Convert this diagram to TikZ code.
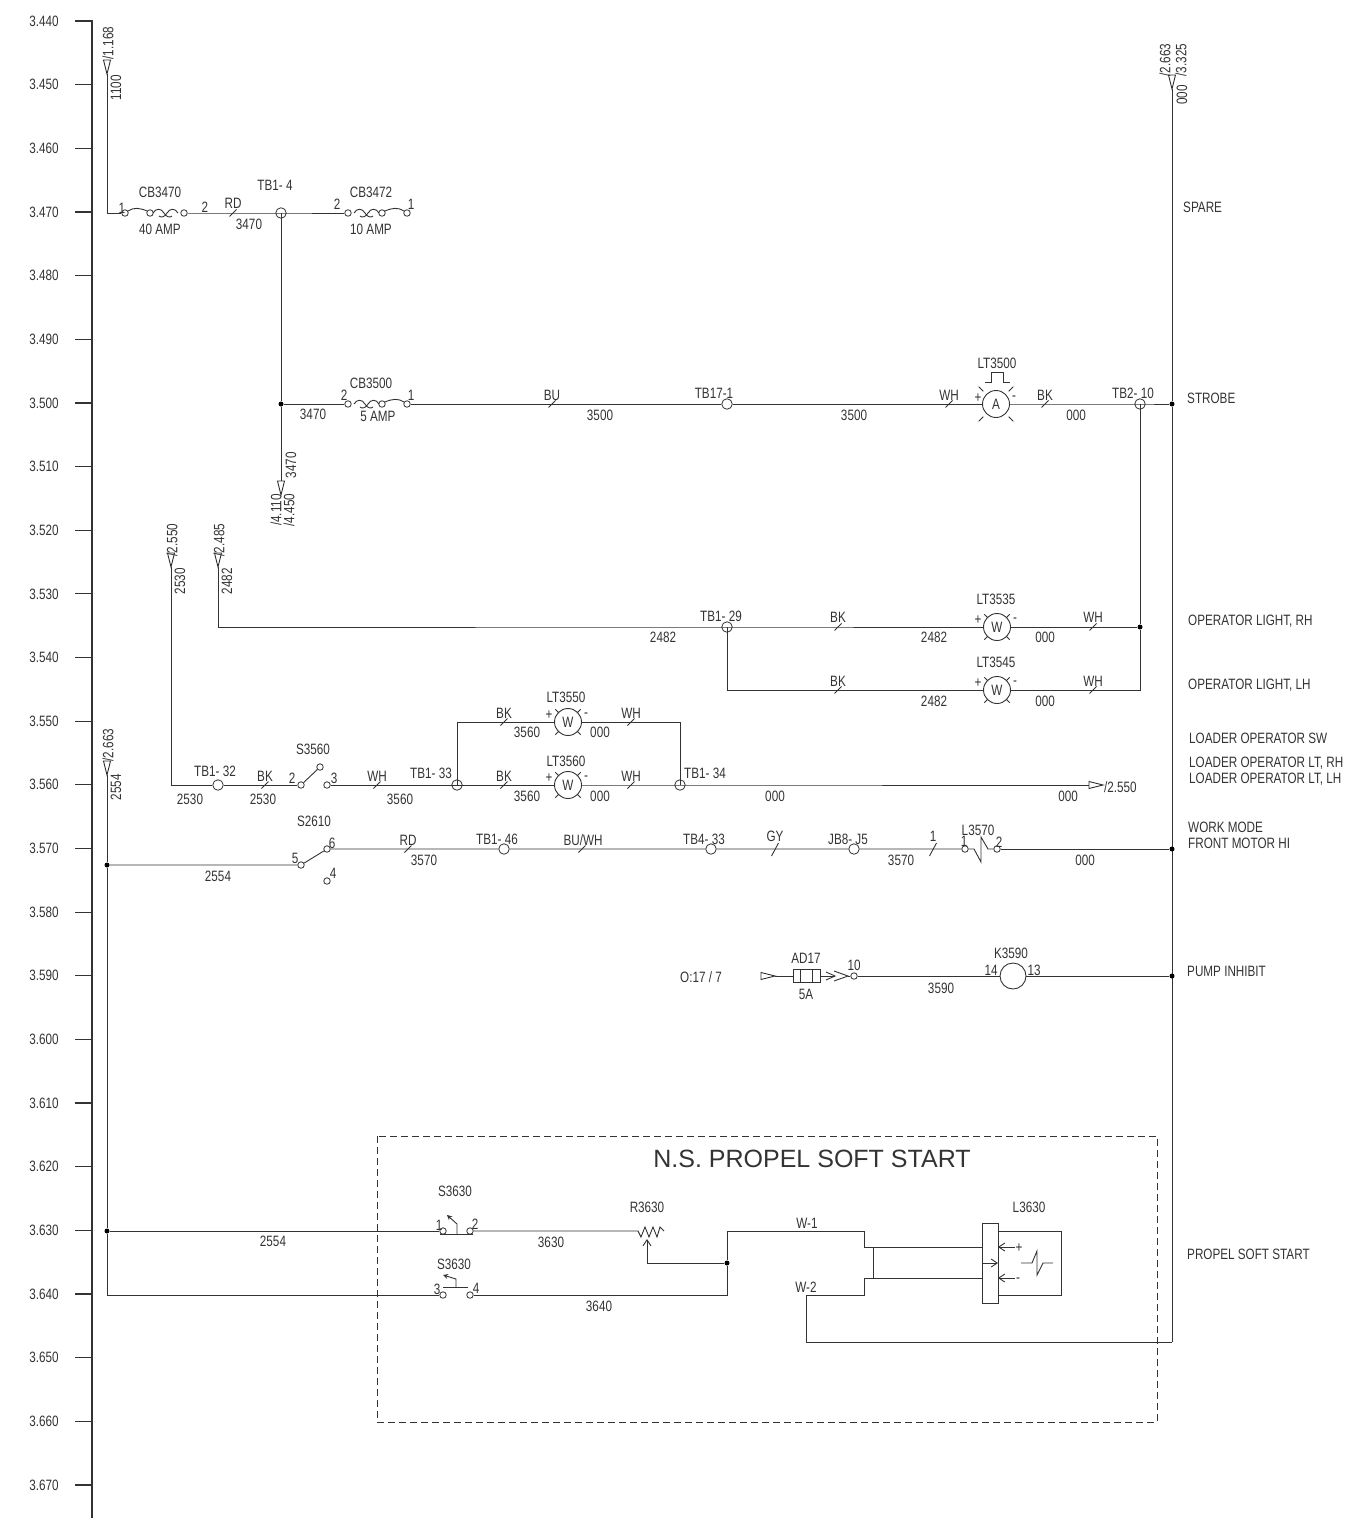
\documentclass[tikz,border=0pt]{standalone}
\usepackage{fontspec}
\setmainfont[FakeStretch=0.78]{Liberation Sans}
\newfontfamily\titlefont{Liberation Sans}
\usetikzlibrary{arrows.meta}
\definecolor{inkgray}{HTML}{333333}
\tikzset{
  wire/.style={draw=inkgray,line width=0.9pt},
  lbl/.style={text=inkgray,font=\fontsize{15}{15}\selectfont,inner sep=0pt},
  vlbl/.style={lbl,rotate=90},
  rowlbl/.style={lbl,anchor=west},
  term/.style={circle,draw=inkgray,line width=0.8pt,fill=white,inner sep=0pt,minimum size=6.5pt},
  tb/.style={circle,draw=inkgray,line width=0.8pt,inner sep=0pt,minimum size=10.5pt},
  dotjoint/.style={circle,fill=black,inner sep=0pt,minimum size=5pt},
  lampbody/.style={circle,draw=inkgray,line width=0.9pt,inner sep=0pt,minimum size=27pt,text=inkgray,font=\fontsize{15}{15}\selectfont},
  opentip/.style={-{Straight Barb[length=6pt,width=8pt]}},
  wiretick/.pic={\draw[wire] (-3.5,3.5) -- (3.5,-3.5);},
  longtick/.pic={\draw[wire] (-3.5,7) -- (3.5,-6);},
  offsheet/.pic={
    \draw[wire,fill=white] (0,0) -- (-3.5,-14) -- (3.5,-14) -- cycle;
    \coordinate (-tip) at (0,0);
    \coordinate (-base) at (0,-14);
  },
  breaker/.pic={
    \node[term] (-a) at (0,0) {};
    \node[term] (-m) at (25,0) {};
    \node[term] (-b) at (59,0) {};
    \draw[wire] (3,-2) .. controls (9,-6) and (15,-5) .. (22,-2);
    \draw[wire] (28,0) .. controls (31,-5) and (36,-5) .. (39,0) .. controls (41,4) and (45,5) .. (47,3);
    \draw[wire] (53,0) .. controls (50,-5) and (45,-5) .. (42,0) .. controls (40,4) and (36,5) .. (34,3);
  },
  lampw/.pic={
    \node[lampbody] (-c) at (0,0) {W};
    \foreach \a in {45,135,225,315} \draw[wire] (\a:12.5) -- (\a:18);
    \node[lbl] (-p) at (-19,-7) {+};
    \node[lbl] (-m) at (18,-7) {-};
  }
}
\begin{document}
\begin{tikzpicture}[x=1pt,y=-1pt]
\useasboundingbox (0,0) rectangle (1361,1520);
\coordinate (axtop) at (92,20);
\coordinate (axbot) at (92,1518);
\draw[draw=inkgray,line width=2.4pt] (axtop) -- (axbot);
\foreach \i in {0,...,23} {
  \pgfmathsetmacro\rowy{21+63.65*\i}
  \pgfmathtruncatemacro\rung{440+10*\i}
  \draw[draw=inkgray,line width=1.2pt] (75,\rowy) -- (92,\rowy);
  \node[lbl] (ax\rung) at (44,\rowy) {3.\rung};
}

\pic (a1100) at (107,74) {offsheet};
\node[vlbl] (l1168) at (108,43) {/1.168};
\node[vlbl] (l1100) at (116,88) {1100};
\coordinate (c1100) at (107,213);
\pic (cb3470) at (125,213) {breaker};
\node[tb] (tb14) at (281,213) {};
\pic[xscale=-1] (cb3472) at (407,213) {breaker};
\draw[wire] (a1100-tip) -- (c1100) -- (cb3470-a);
\draw[wire] (cb3470-b) -- (tb14.center) -- (cb3472-b);
\pic at (233,213) {wiretick};
\node[lbl] (l1a) at (122,208) {1};
\node[lbl] (l2a) at (205,207) {2};
\node[lbl] (lcb3470) at (160,192) {CB3470};
\node[lbl] (l40a) at (160,229) {40 AMP};
\node[lbl] (lrd1) at (233,203) {RD};
\node[lbl] (l3470a) at (249,224) {3470};
\node[lbl] (ltb14) at (275,185) {TB1- 4};
\node[lbl] (l2b) at (337,204) {2};
\node[lbl] (l1b) at (411,204) {1};
\node[lbl] (lcb3472) at (371,192) {CB3472};
\node[lbl] (l10a) at (371,229) {10 AMP};

\node[dotjoint] (j3500) at (281,404) {};
\pic (a3470) at (281,495) {offsheet};
\draw[wire] (tb14.center) -- (j3500) -- (a3470-base);
\node[vlbl] (l3470b) at (291,465) {3470};
\node[vlbl] (l4110) at (276,510) {/4.110};
\node[vlbl] (l4450) at (289,510) {/4.450};
\node[lbl] (l3470c) at (313,414) {3470};
\pic[xscale=-1] (cb3500) at (407,404) {breaker};
\node[tb] (tb171) at (727,404) {};
\node[lampbody] (lt3500) at (996,404) {A};
\foreach \a in {45,135,225,315} \draw[wire] ([shift={(\a:18)}]lt3500.center) -- ([shift={(\a:24.5)}]lt3500.center);
\draw[wire] (985,382) -- (991,382) -- (991,372) -- (1003,372) -- (1003,382) -- (1010,382);
\node[tb] (tb210) at (1140,404) {};
\node[dotjoint] (j000a) at (1172,404) {};
\draw[wire] (j3500) -- (cb3500-b);
\draw[wire] (cb3500-a) -- (tb171) -- (lt3500) -- (tb210.center) -- (j000a);
\pic at (552,404) {wiretick};
\pic at (949,404) {wiretick};
\pic at (1045,404) {wiretick};
\node[lbl] (l2c) at (344,395) {2};
\node[lbl] (l1c) at (411,395) {1};
\node[lbl] (lcb3500) at (371,383) {CB3500};
\node[lbl] (l5a) at (378,416) {5 AMP};
\node[lbl] (lbu) at (552,395) {BU};
\node[lbl] (l3500a) at (600,415) {3500};
\node[lbl] (ltb171) at (714,393) {TB17-1};
\node[lbl] (l3500b) at (854,415) {3500};
\node[lbl] (lwh1) at (949,395) {WH};
\node[lbl] (llt3500) at (997,363) {LT3500};
\node[lbl] (lpa) at (978,398) {+};
\node[lbl] (lma) at (1014,398) {-};
\node[lbl] (lbk1) at (1045,395) {BK};
\node[lbl] (l000a) at (1076,415) {000};
\node[lbl] (ltb210) at (1133,393) {TB2- 10};

\pic (a000) at (1172,89) {offsheet};
\node[vlbl] (l2663a) at (1165,60) {/2.663};
\node[vlbl] (l3325) at (1181,60) {/3.325};
\node[vlbl] (l000b) at (1182,95) {000};
\coordinate (c1342) at (1172,1342);
\draw[wire] (a000-tip) -- (j000a) -- (c1342);

\pic (a2482) at (218,567) {offsheet};
\node[vlbl] (l2485) at (219,540) {/2.485};
\node[vlbl] (l2482a) at (227,581) {2482};
\coordinate (c2482) at (218,627);
\node[tb] (tb129) at (727,627) {};
\pic (lt3535) at (997,627) {lampw};
\node[dotjoint] (j1140) at (1140,627) {};
\draw[wire] (a2482-tip) -- (c2482) -- (tb129.center) -- (lt3535-c) -- (j1140);
\draw[wire] (tb210.center) -- (j1140);
\pic at (838,627) {wiretick};
\pic at (1093,627) {wiretick};
\node[lbl] (l2482b) at (663,637) {2482};
\node[lbl] (ltb129) at (721,616) {TB1- 29};
\node[lbl] (lbk2) at (838,617) {BK};
\node[lbl] (llt3535) at (996,599) {LT3535};
\node[lbl] (l2482c) at (934,637) {2482};
\node[lbl] (l000c) at (1045,637) {000};
\node[lbl] (lwh2) at (1093,617) {WH};

\coordinate (c727) at (727,690);
\coordinate (c1140) at (1140,690);
\pic (lt3545) at (997,690) {lampw};
\draw[wire] (tb129.center) -- (c727) -- (lt3545-c) -- (c1140) -- (j1140);
\pic at (838,690) {wiretick};
\pic at (1093,690) {wiretick};
\node[lbl] (lbk3) at (838,681) {BK};
\node[lbl] (l2482d) at (934,701) {2482};
\node[lbl] (llt3545) at (996,662) {LT3545};
\node[lbl] (l000d) at (1045,701) {000};
\node[lbl] (lwh3) at (1093,681) {WH};

\pic (a2530) at (171,567) {offsheet};
\node[vlbl] (l2550a) at (172,540) {/2.550};
\node[vlbl] (l2530a) at (180,581) {2530};
\coordinate (c2530) at (171,785);
\node[tb] (tb132) at (218,785) {};
\node[term] (s35602) at (301,785) {};
\node[term] (s35603) at (327,785) {};
\node[term] (s3560p) at (320,767) {};
\node[tb] (tb133) at (457,785) {};
\node[tb] (tb134) at (680,785) {};
\pic (a2550) at (1103,785) [rotate=90] {offsheet};
\draw[wire] (a2530-tip) -- (c2530) -- (tb132) -- (s35602);
\draw[wire] (s35602) -- (s3560p);
\draw[wire] (s35603) -- (tb133.center);
\pic (lt3560) at (568,785) {lampw};
\draw[wire] (tb133.center) -- (lt3560-c) -- (tb134.center) -- (a2550-base);
\coordinate (c457) at (457,722);
\coordinate (c680) at (680,722);
\pic (lt3550) at (568,722) {lampw};
\draw[wire] (tb133.center) -- (c457) -- (lt3550-c) -- (c680) -- (tb134.center);
\pic at (265,785) {wiretick};
\pic at (377,785) {wiretick};
\pic at (504,785) {wiretick};
\pic at (631,785) {wiretick};
\pic at (504,722) {wiretick};
\pic at (631,722) {wiretick};
\node[lbl] (ltb132) at (215,771) {TB1- 32};
\node[lbl] (l2530b) at (190,799) {2530};
\node[lbl] (lbk4) at (265,776) {BK};
\node[lbl] (l2530c) at (263,799) {2530};
\node[lbl] (ls3560) at (313,749) {S3560};
\node[lbl] (l2d) at (292,778) {2};
\node[lbl] (l3d) at (334,778) {3};
\node[lbl] (lwh4) at (377,776) {WH};
\node[lbl] (l3560a) at (400,799) {3560};
\node[lbl] (ltb133) at (431,773) {TB1- 33};
\node[lbl] (lbk5) at (504,713) {BK};
\node[lbl] (l3560b) at (527,732) {3560};
\node[lbl] (llt3550) at (566,697) {LT3550};
\node[lbl] (l000e) at (600,732) {000};
\node[lbl] (lwh5) at (631,713) {WH};
\node[lbl] (lbk6) at (504,776) {BK};
\node[lbl] (l3560c) at (527,796) {3560};
\node[lbl] (llt3560) at (566,761) {LT3560};
\node[lbl] (l000f) at (600,796) {000};
\node[lbl] (lwh6) at (631,776) {WH};
\node[lbl] (ltb134) at (705,773) {TB1- 34};
\node[lbl] (l000g) at (775,796) {000};
\node[lbl] (l000h) at (1068,796) {000};
\node[lbl,anchor=west] (l2550b) at (1104,787) {/2.550};

\pic (a2554) at (107,775) {offsheet};
\node[vlbl] (l2663b) at (108,745) {/2.663};
\node[vlbl] (l2554a) at (116,787) {2554};
\node[dotjoint] (j865) at (107,865) {};
\node[dotjoint] (j1231) at (107,1231) {};
\coordinate (c1295) at (107,1295);
\draw[wire] (a2554-tip) -- (j865) -- (j1231) -- (c1295);
\node[term] (s26105) at (301,865) {};
\node[term] (s26106) at (327,849) {};
\node[term] (s26104) at (327,881) {};
\node[tb,fill=white] (tb146) at (504,849) {};
\node[tb,fill=white] (tb433) at (711,849) {};
\node[tb,fill=white] (jb8j5) at (854,849) {};
\node[term] (l35701) at (965,849) {};
\node[term] (l35702) at (997,849) {};
\node[dotjoint] (j000b) at (1172,849) {};
\draw[wire] (j865) -- (s26105) -- (s26106) -- (tb146) -- (tb433) -- (jb8j5) -- (l35701);
\draw[wire] (l35701) -- (974,849) -- (981,862) -- (981,837) -- (988,849) -- (l35702);
\draw[wire] (l35702) -- (j000b);
\pic at (408,849) {wiretick};
\pic at (582,849) {wiretick};
\pic at (775,849) {longtick};
\pic at (933,849) {longtick};
\node[lbl] (l2554b) at (218,876) {2554};
\node[lbl] (ls2610) at (314,821) {S2610};
\node[lbl] (l5e) at (295,858) {5};
\node[lbl] (l6e) at (332,843) {6};
\node[lbl] (l4e) at (333,873) {4};
\node[lbl] (lrd2) at (408,840) {RD};
\node[lbl] (l3570a) at (424,860) {3570};
\node[lbl] (ltb146) at (497,839) {TB1- 46};
\node[lbl] (lbuwh) at (583,840) {BU/WH};
\node[lbl] (ltb433) at (704,839) {TB4- 33};
\node[lbl] (lgy) at (775,836) {GY};
\node[lbl] (ljb8) at (848,839) {JB8- J5};
\node[lbl] (l3570b) at (901,860) {3570};
\node[lbl] (l1f) at (933,836) {1};
\node[lbl] (ll3570) at (978,830) {L3570};
\node[lbl] (l1g) at (964,841) {1};
\node[lbl] (l2g) at (999,842) {2};
\node[lbl] (l000i) at (1085,860) {000};

\node[lbl] (lo17) at (701,977) {O:17 / 7};
\pic (a017) at (775,976) [rotate=90] {offsheet};
\node[draw=inkgray,line width=0.9pt,inner sep=0pt,minimum width=27pt,minimum height=13pt] (ad17) at (806.5,976) {};
\draw[wire] (800,969.5) -- (800,982.5);
\draw[wire] (812.5,969.5) -- (812.5,982.5);
\node[term] (t10) at (854,976) {};
\coordinate (chev) at (848,976);
\node[circle,draw=inkgray,line width=0.9pt,inner sep=0pt,minimum size=26pt] (k3590) at (1013,976) {};
\node[dotjoint] (j000c) at (1172,976) {};
\draw[wire] (a017-tip) -- (ad17);
\draw[wire] (ad17) -- (835,976);
\draw[wire] (826,972) -- (835,976) -- (826,980);
\draw[wire] (834,971) -- (chev) -- (834,981);
\draw[wire] (chev) -- (t10) -- (k3590) -- (j000c);
\node[lbl] (lad17) at (806,958) {AD17};
\node[lbl] (l5b) at (806,994) {5A};
\node[lbl] (l10) at (854,965) {10};
\node[lbl] (l3590) at (941,988) {3590};
\node[lbl] (lk3590) at (1011,953) {K3590};
\node[lbl] (l14) at (991,970) {14};
\node[lbl] (l13) at (1034,970) {13};

\draw[draw=inkgray,line width=0.8pt,dashed,dash pattern=on 7pt off 4pt] (377,1136) rectangle (1157,1422);
\node[text=inkgray,inner sep=0pt,font=\titlefont\fontsize{25}{25}\selectfont] (ltitle) at (812,1159) {N.S. PROPEL SOFT START};

\node[term] (s36301) at (443,1231) {};
\node[term] (s36302) at (470,1231) {};
\draw[wire] (j1231) -- (s36301);
\draw[wire] (440,1234) -- (473,1234);
\draw[wire,-{Stealth[length=5pt,width=5pt]}] (457,1234) -- (457,1224) -- (447,1215);
\coordinate (r3630a) at (638,1231);
\coordinate (r3630b) at (664,1231);
\draw[wire] (s36302) -- (r3630a) -- (641,1237) -- (645,1227) -- (649,1237) -- (653,1227) -- (657,1237) -- (660,1227) -- (r3630b);
\node[dotjoint] (j1263) at (727,1263) {};
\coordinate (c647) at (647,1263);
\coordinate (r3630w) at (647,1239);
\draw[wire,opentip] (j1263) -- (c647) -- (r3630w);
\node[term] (s36303) at (443,1295) {};
\node[term] (s36304) at (470,1295) {};
\draw[wire] (c1295) -- (s36303);
\draw[wire] (443,1287) -- (468,1287);
\draw[wire,-{Stealth[length=5pt,width=5pt]}] (456,1287) -- (456,1279) -- (443,1275);
\coordinate (c727b) at (727,1295);
\coordinate (c727c) at (727,1231);
\coordinate (c864a) at (864,1231);
\coordinate (c864b) at (864,1247);
\coordinate (c873a) at (873,1247);
\coordinate (c873b) at (873,1278);
\coordinate (c864c) at (864,1278);
\coordinate (c864d) at (864,1295);
\coordinate (c806a) at (806,1295);
\coordinate (c806b) at (806,1342);
\draw[wire] (s36304) -- (c727b) -- (j1263) -- (c727c) -- (c864a) -- (c864b) -- (c873a) -- (c873b) -- (c864c) -- (c864d) -- (c806a) -- (c806b) -- (c1342);
\node[draw=inkgray,line width=0.9pt,inner sep=0pt,minimum width=16pt,minimum height=80pt] (l3630) at (990,1263) {};
\draw[wire] (c873a) -- (982,1247);
\draw[wire] (c873b) -- (982,1278);
\draw[wire] (998,1231) -- (1061,1231) -- (1061,1295) -- (998,1295);
\draw[wire,opentip] (1015,1247) -- (998,1247);
\draw[wire,opentip] (982,1263) -- (998,1263);
\draw[wire,opentip] (1015,1278) -- (998,1278);
\draw[wire] (1021,1263) -- (1032,1263) -- (1037,1251) -- (1037,1275) -- (1043,1263) -- (1053,1263);
\node[lbl] (ls3630a) at (455,1191) {S3630};
\node[lbl] (l1h) at (439,1225) {1};
\node[lbl] (l2h) at (475,1224) {2};
\node[lbl] (l2554c) at (273,1241) {2554};
\node[lbl] (l3630a) at (551,1242) {3630};
\node[lbl] (lr3630) at (647,1207) {R3630};
\node[lbl] (ls3630b) at (454,1264) {S3630};
\node[lbl] (l3h) at (437,1289) {3};
\node[lbl] (l4h) at (476,1288) {4};
\node[lbl] (l3640) at (599,1306) {3640};
\node[lbl] (lw1) at (807,1223) {W-1};
\node[lbl] (lw2) at (806,1287) {W-2};
\node[lbl] (ll3630) at (1029,1207) {L3630};
\node[lbl] (lplus) at (1019,1248) {+};
\node[lbl] (lminus) at (1018,1280) {-};

\node[rowlbl] (rspare) at (1183,207) {SPARE};
\node[rowlbl] (rstrobe) at (1187,398) {STROBE};
\node[rowlbl] (rop1) at (1188,621) {OPERATOR LIGHT, RH};
\node[rowlbl] (rop2) at (1188,685) {OPERATOR LIGHT, LH};
\node[rowlbl] (rload1) at (1189,738) {LOADER OPERATOR SW};
\node[rowlbl] (rload2) at (1189,763) {LOADER OPERATOR LT, RH};
\node[rowlbl] (rload3) at (1189,779) {LOADER OPERATOR LT, LH};
\node[rowlbl] (rwork) at (1188,827) {WORK MODE};
\node[rowlbl] (rfront) at (1188,843) {FRONT MOTOR HI};
\node[rowlbl] (rpump) at (1187,971) {PUMP INHIBIT};
\node[rowlbl] (rpropel) at (1187,1254) {PROPEL SOFT START};
\end{tikzpicture}
\end{document}
